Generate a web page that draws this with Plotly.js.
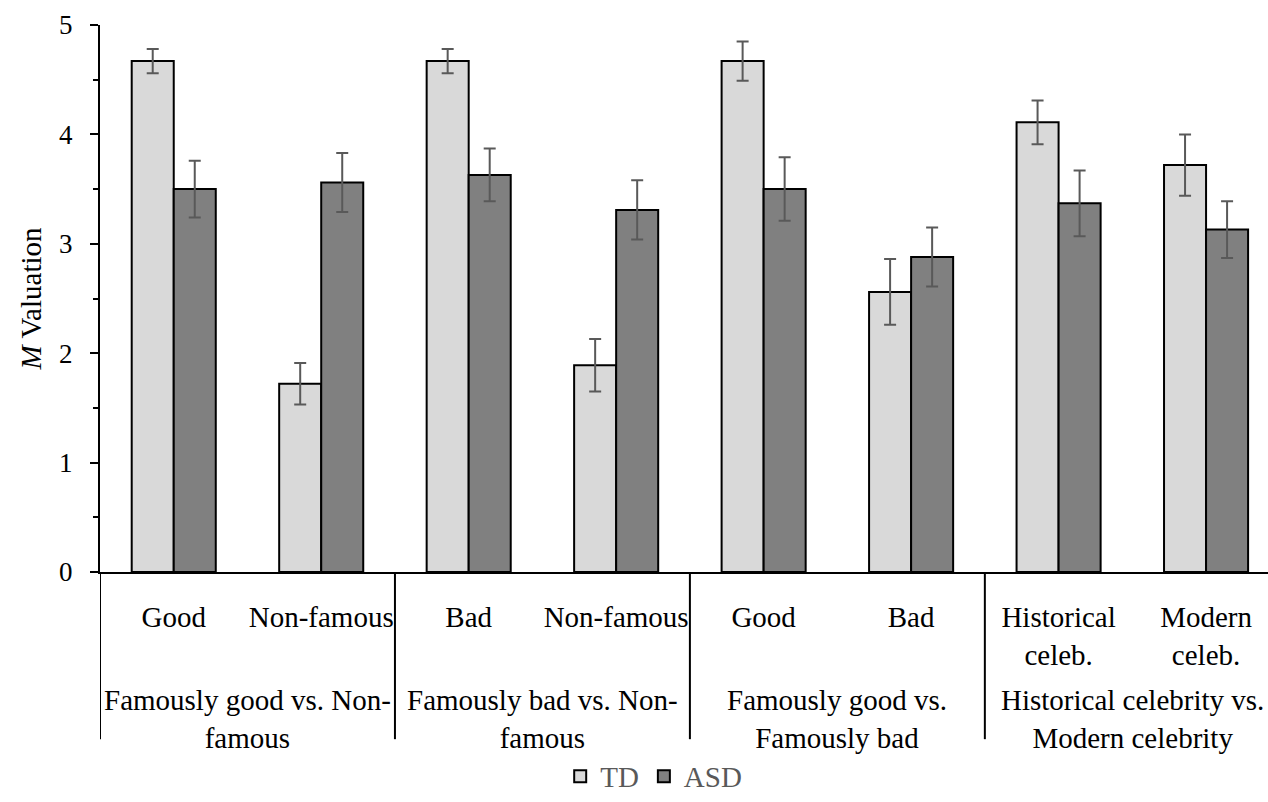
<!DOCTYPE html>
<html>
<head>
<meta charset="utf-8">
<script src="https://cdn.plot.ly/plotly-3.0.1.min.js"></script>
<style>html,body{margin:0;padding:0;background:#fff;}#chart{width:1268px;height:802px;}</style>
</head>
<body>
<div id="chart"></div>
<script>
// ---- data ----
var subcats = ["Good", "Non-famous", "Bad", "Non-famous", "Good", "Bad", "Historical<br>celeb.", "Modern<br>celeb."];
var groups = ["Famously good vs. Non-<br>famous", "Famously bad vs. Non-<br>famous", "Famously good vs.<br>Famously bad", "Historical celebrity vs.<br>Modern celebrity"];
var groupSizes = [2, 2, 2, 2];
var tdMean = [4.67, 1.72, 4.67, 1.89, 4.67, 2.56, 4.11, 3.72];
var tdErr  = [0.11, 0.19, 0.11, 0.24, 0.18, 0.30, 0.20, 0.28];
var asdMean = [3.50, 3.56, 3.63, 3.31, 3.50, 2.88, 3.37, 3.13];
var asdErr  = [0.26, 0.27, 0.24, 0.27, 0.29, 0.27, 0.30, 0.26];
var seriesNames = ["TD", "ASD"];
var yTicks = [0, 1, 2, 3, 4, 5];

// ---- build ----
var FONT = "'Liberation Serif', 'Times New Roman', serif";
var idx = subcats.map(function (_, i) { return i; });

function barTrace(name, y, err, fill) {
  return {
    type: "bar", name: name, x: idx, y: y,
    marker: { color: fill, line: { color: "#000", width: 2 } },
    error_y: { type: "data", array: err, visible: true, color: "#595959", thickness: 2, width: 6 },
    hoverinfo: "y"
  };
}

var traces = [
  barTrace(seriesNames[0], tdMean, tdErr, "#d9d9d9"),
  barTrace(seriesNames[1], asdMean, asdErr, "#808080")
];

var plotTop = 24.5, plotBottom = 584, plotH = plotBottom - plotTop;
function py(pix) { return (plotBottom - pix) / plotH; }

var shapes = [], annotations = [];
var start = 0;
var divBottom = py(755);
shapes.push({ type: "line", xref: "x", yref: "paper", x0: -0.5, x1: -0.5, y0: 0, y1: divBottom, line: { color: "#000", width: 2 } });
groupSizes.forEach(function (n, g) {
  var end = start + n;
  shapes.push({ type: "line", xref: "x", yref: "paper", x0: end - 0.5, x1: end - 0.5, y0: 0, y1: divBottom, line: { color: "#000", width: 2 } });
  annotations.push({
    xref: "x", yref: "paper", x: (start + end - 1) / 2, y: py(734), yanchor: "middle", xanchor: "center",
    text: groups[g], showarrow: false, align: "center",
    font: { family: FONT, size: 29, color: "#000" }
  });
  start = end;
});

var layout = {
  width: 1268, height: 802,
  margin: { l: 100, r: 0, t: plotTop, b: 802 - plotBottom, pad: 0 },
  paper_bgcolor: "#fff", plot_bgcolor: "#fff",
  barmode: "group", bargap: 0.43, bargroupgap: 0,
  font: { family: FONT, color: "#000" },
  showlegend: true,
  legend: {
    orientation: "h", x: 0.394, xanchor: "left", y: py(793), yanchor: "middle",
    font: { family: FONT, size: 29, color: "#595959" }, itemwidth: 30,
    bgcolor: "rgba(0,0,0,0)"
  },
  xaxis: {
    range: [-0.5, 7.42], tickmode: "array", tickvals: idx, ticktext: subcats,
    showline: true, linecolor: "#000", linewidth: 2, ticks: "", showgrid: false, zeroline: false,
    tickfont: { family: FONT, size: 29, color: "#000" }, ticklabelstandoff: 18, fixedrange: true
  },
  yaxis: {
    range: [0, 5], tickmode: "array", tickvals: yTicks,
    showline: true, linecolor: "#000", linewidth: 2, ticks: "outside", ticklen: 8, tickwidth: 2, tickcolor: "#000",
    minor: { ticks: "outside", ticklen: 5, tickwidth: 2, tickcolor: "#000", dtick: 0.5, showgrid: false },
    showgrid: false, zeroline: false,
    tickfont: { family: FONT, size: 27, color: "#000" }, ticklabelstandoff: 12,
    title: { text: "<i>M</i> Valuation", font: { family: FONT, size: 29, color: "#000" }, standoff: 9 },
    fixedrange: true
  },
  shapes: shapes,
  annotations: annotations
};

Plotly.newPlot("chart", traces, layout, { displayModeBar: false, staticPlot: true });
</script>
</body>
</html>
